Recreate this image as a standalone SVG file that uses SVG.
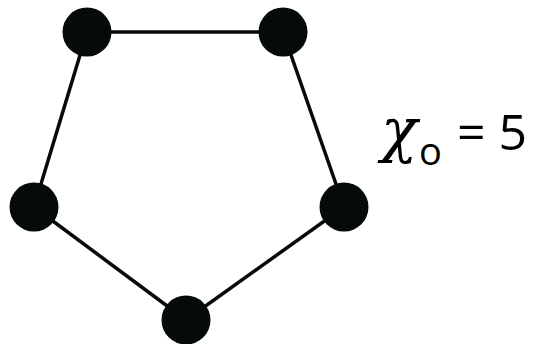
<svg xmlns="http://www.w3.org/2000/svg" width="536" height="344" viewBox="0 0 536 344">
<style>
.edge{stroke:#050a0a;stroke-width:3.5;fill:none}
.node{fill:#050a0a}
.lbl{font-family:"Open Sans","Liberation Sans",sans-serif;fill:#000}
.chi{font-family:"DejaVu Serif",serif;font-style:italic}
</style>
<rect width="536" height="344" fill="#fff"/>
<g id="connectors">
<line class="edge" x1="87" y1="32" x2="283" y2="32"/>
<line class="edge" x1="283" y1="32" x2="344" y2="207"/>
<line class="edge" x1="344" y1="207" x2="186" y2="320"/>
<line class="edge" x1="186" y1="320" x2="34" y2="207"/>
<line class="edge" x1="34" y1="207" x2="87" y2="32"/>
</g>
<g id="n1"><circle class="node" cx="87" cy="32" r="24.5"/></g>
<g id="n2"><circle class="node" cx="283" cy="32" r="24.5"/></g>
<g id="n3"><circle class="node" cx="344" cy="207" r="24.5"/></g>
<g id="n4"><circle class="node" cx="186" cy="320" r="24.5"/></g>
<g id="n5"><circle class="node" cx="34" cy="207" r="24.5"/></g>
<g id="label">
<text class="lbl" x="381" y="151" font-size="50"><tspan class="chi" font-size="60">χ</tspan><tspan x="419" y="165" font-size="38">o</tspan><tspan x="457" y="150" font-size="50">= 5</tspan></text>
</g>
</svg>
